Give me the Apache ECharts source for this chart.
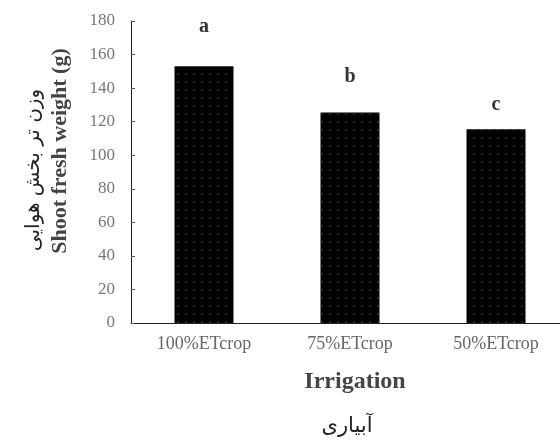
<!DOCTYPE html>
<html><head><meta charset="utf-8">
<script src="https://cdn.jsdelivr.net/npm/echarts@6/dist/echarts.min.js"></script>
<style>html,body{margin:0;padding:0;background:#fff}#c{width:560px;height:444px}</style>
</head><body><div id="c"></div>
<script>
const categories = ['100%ETcrop', '75%ETcrop', '50%ETcrop'];
const values = [153, 125.5, 115.5];
const letters = ['a', 'b', 'c'];
const yTicks = [0, 20, 40, 60, 80, 100, 120, 140, 160, 180];
const xTitle = 'Irrigation';
const xTitleFa = 'آبیاری';
const yTitle = 'Shoot fresh weight (g)';
const yTitleFa = 'وزن تر بخش هوایی';

// layout constants (not data)
const letterGap = [29, 26, 14];

const chart = echarts.init(document.getElementById('c'), null, {renderer: 'canvas'});
const serif = 'Liberation Serif';
chart.setOption({
  animation: false,
  grid: {left: 131, right: -9, top: 21, bottom: 121, containLabel: false, outerBoundsMode: 'none'},
  xAxis: {
    type: 'category', data: categories,
    axisLine: {lineStyle: {color: '#222', width: 1}},
    axisTick: {inside: true, length: 4, lineStyle: {color: '#555'}},
    axisLabel: {color: '#666', fontFamily: serif, fontSize: 18, margin: 12}
  },
  yAxis: {
    type: 'value', min: yTicks[0], max: yTicks[yTicks.length - 1], interval: 20,
    axisLine: {show: true, lineStyle: {color: '#222', width: 1}},
    axisTick: {show: true, inside: true, length: 4, lineStyle: {color: '#555'}},
    splitLine: {show: false},
    axisLabel: {color: '#777', fontFamily: serif, fontSize: 17, margin: 16}
  },
  series: [{
    type: 'bar', barWidth: 59,
    data: values.map((v, i) => ({value: v, label: {distance: letterGap[i]}})),
    itemStyle: {
      color: '#000',
      decal: {symbol: 'circle', symbolSize: 0.4, color: 'rgba(255,255,255,0.28)', dashArrayX: [4, 4], dashArrayY: [4, 4], rotation: 0}
    },
    label: {
      show: true, position: 'top',
      formatter: p => letters[p.dataIndex],
      fontFamily: serif, fontWeight: 'bold', fontSize: 20, color: '#333'
    }
  }],
  graphic: [
    {type: 'text', x: 355, y: 382,
     style: {text: xTitle, font: 'bold 24px "Liberation Serif"', fill: '#444', textAlign: 'center', textVerticalAlign: 'middle'}},
    {type: 'text', x: 347, y: 427,
     style: {text: xTitleFa, font: '21px "DejaVu Sans"', fill: '#222', textAlign: 'center', textVerticalAlign: 'middle'}},
    {type: 'text', x: 60, y: 151, rotation: Math.PI / 2,
     style: {text: yTitle, font: 'bold 22px "Liberation Serif"', fill: '#444', textAlign: 'center', textVerticalAlign: 'middle'}},
    {type: 'text', x: 34, y: 170, rotation: Math.PI / 2,
     style: {text: yTitleFa, font: '20px "DejaVu Sans"', fill: '#222', textAlign: 'center', textVerticalAlign: 'middle'}}
  ]
});
</script></body></html>
